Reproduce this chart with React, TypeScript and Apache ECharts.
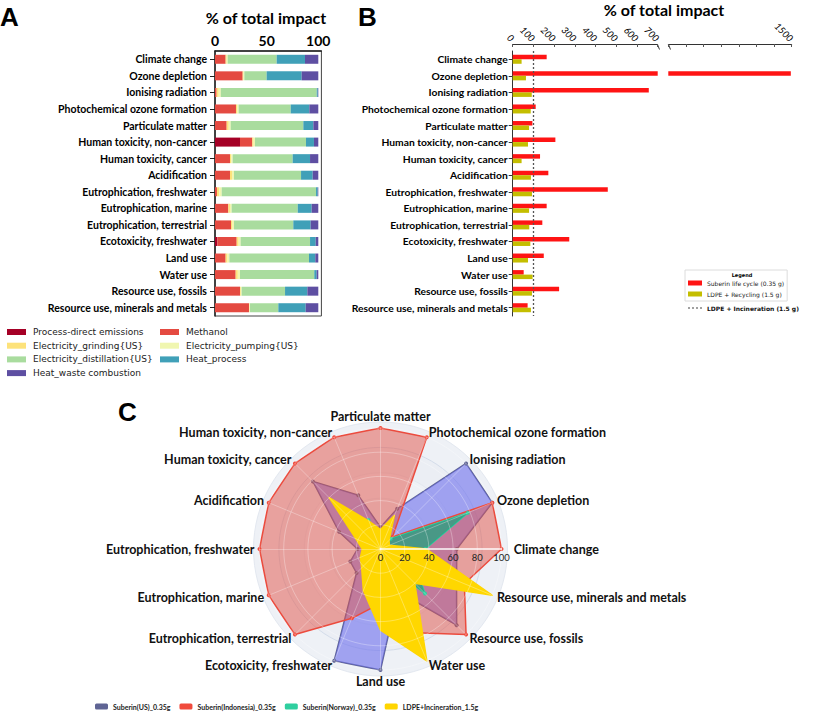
import React, { useEffect, useRef } from 'react';
import * as echarts from 'echarts';

const categories = [
  'Climate change',
  'Ozone depletion',
  'Ionising radiation',
  'Photochemical ozone formation',
  'Particulate matter',
  'Human toxicity, non-cancer',
  'Human toxicity, cancer',
  'Acidification',
  'Eutrophication, freshwater',
  'Eutrophication, marine',
  'Eutrophication, terrestrial',
  'Ecotoxicity, freshwater',
  'Land use',
  'Water use',
  'Resource use, fossils',
  'Resource use, minerals and metals',
];

// Panel A: contribution (% of total impact)
const processDirect = [0, 0, 0, 0, 0, 24.2, 0, 0, 0, 0, 0, 2.3, 0, 0, 0, 0];
const methanol = [10.3, 26.8, 1.6, 20.3, 11.3, 11.9, 14.5, 14.5, 1.9, 12.9, 15.5, 18.7, 10.3, 20, 24.2, 32.9];
const elecGrinding = [1, 0.8, 2, 1.3, 2, 1.3, 1.3, 2, 2.3, 1.6, 1.5, 1.9, 1.8, 2.1, 0.8, 0.5];
const elecPumping = [1, 0.8, 2, 1.3, 1.9, 1.3, 1.3, 1.9, 2.3, 1.6, 1.4, 1.9, 1.8, 2.1, 0.8, 0.5];
const elecDistillation = [47.4, 21.6, 92.9, 50.4, 70.3, 49.4, 58.1, 64.9, 91.3, 64, 57.4, 67.2, 77.1, 71.9, 42, 27.4];
const heatProcess = [27.4, 33.9, 1, 18, 9.7, 7.7, 16.8, 11.3, 1.6, 13.5, 16.8, 5.5, 6.1, 2.3, 21.6, 26.5];
const heatWaste = [12.9, 16.1, 0.5, 8.7, 4.8, 4.2, 8, 5.4, 0.6, 6.4, 7.4, 2.5, 2.9, 1.6, 10.6, 12.2];

// Panel B: % of total impact relative to LDPE + incineration
const suberinLifeCycle = [164, 1495, 657, 111, 95, 206, 132, 172, 459, 164, 143, 273, 150, 53, 224, 72];
const ldpeRecycling = [43, 64, 92, 87, 79, 74, 43, 88, 93, 79, 80, 85, 74, 96, 93, 88];
const ldpeIncinerationRef = 100;
const bTicksFirst = { min: 0, max: 700, interval: 100 };
const bTicksSecond = { min: 800, max: 1500, interval: 100 };

// Panel C: radar (normalised, 0-100)
const suberinUS = [63, 100, 100, 36, 18, 48, 79, 37, 19, 27, 28, 100, 100, 38, 89, 68];
const suberinIndonesia = [100, 100, 14, 100, 100, 100, 100, 100, 100, 100, 100, 62, 45, 75, 100, 75];
const suberinNorway = [37, 78, 12, 10, 8, 26, 10, 10, 5, 8, 8, 10, 10, 15, 52, 30];
const ldpeIncineration = [38, 8, 10, 30, 16, 25, 60, 22, 15, 18, 22, 37, 67, 100, 40, 100];

const aSeriesDefs = [
  { name: 'Process-direct emissions', data: processDirect, color: '#a50026' },
  { name: 'Methanol', data: methanol, color: '#e44a41' },
  { name: 'Electricity_grinding{US}', data: elecGrinding, color: '#fde27a' },
  { name: 'Electricity_pumping{US}', data: elecPumping, color: '#f0f6b0' },
  { name: 'Electricity_distillation{US}', data: elecDistillation, color: '#a9dc9e' },
  { name: 'Heat_process', data: heatProcess, color: '#40a0b8' },
  { name: 'Heat_waste combustion', data: heatWaste, color: '#5e4fa2' },
];

const FONT = 'Lato';

export default function App() {
  const ref = useRef<HTMLDivElement>(null);
  useEffect(() => {
    if (!ref.current) return;
    const chart = echarts.init(ref.current, undefined, { renderer: 'svg' });

    const aSeries = aSeriesDefs.map((d) => ({
      name: d.name,
      type: 'bar',
      stack: 'a',
      xAxisIndex: 0,
      yAxisIndex: 0,
      barWidth: 9,
      data: d.data,
      itemStyle: { color: d.color },
    }));

    const bBar = (axis: number) => [
      {
        name: 'Suberin life cycle (0.35 g)',
        type: 'bar',
        xAxisIndex: axis,
        yAxisIndex: axis,
        barWidth: 4.5,
        barGap: '0%',
        clip: true,
        data: suberinLifeCycle,
        itemStyle: { color: '#ff1414' },
      },
      {
        name: 'LDPE + Recycling (1.5 g)',
        type: 'bar',
        xAxisIndex: axis,
        yAxisIndex: axis,
        barWidth: 4.5,
        barGap: '0%',
        clip: true,
        data: ldpeRecycling,
        itemStyle: { color: '#c4be00' },
      },
    ];

    const radarStyle = (name: string, data: number[], line: string, fill: string, sym: boolean, z: number) => ({
      name,
      type: 'radar',
      radarIndex: 1,
      z,
      symbol: sym ? 'circle' : 'none',
      symbolSize: 4,
      lineStyle: { color: line, width: 1.5 },
      itemStyle: { color: line },
      areaStyle: { color: fill, opacity: 1 },
      data: [{ value: data, name }],
    });

    const catLabel = (margin: number, size: number) => ({
      fontSize: size,
      fontWeight: 'bold',
      fontFamily: FONT,
      color: '#000',
      margin,
    });

    const option: any = {
      animation: false,
      textStyle: { fontFamily: FONT },
      title: [
        { text: 'A', left: 0, top: 4, padding: 0, textStyle: { fontSize: 26, fontWeight: 'bold', fontFamily: 'Liberation Sans', color: '#000' } },
        { text: 'B', left: 358, top: 4, padding: 0, textStyle: { fontSize: 26, fontWeight: 'bold', fontFamily: 'Liberation Sans', color: '#000' } },
        { text: 'C', left: 118, top: 399, padding: 0, textStyle: { fontSize: 26, fontWeight: 'bold', fontFamily: 'Liberation Sans', color: '#000' } },
        { text: '% of total impact', left: 266, top: 9, padding: 0, textAlign: 'center', textStyle: { fontSize: 16, fontWeight: 'bold', color: '#000' } },
        { text: '% of total impact', left: 664, top: 1, padding: 0, textAlign: 'center', textStyle: { fontSize: 16, fontWeight: 'bold', color: '#000' } },
        { text: 'Legend', left: 742, top: 272, padding: 0, textAlign: 'center', textStyle: { fontSize: 5, fontWeight: 'bold', fontFamily: 'DejaVu Sans', color: '#000' } },
      ],
      graphic: [
        { type: 'line', shape: { x1: 657.5, y1: 44.5, x2: 659.5, y2: 49.5 }, style: { stroke: '#333', lineWidth: 1 } },
        { type: 'line', shape: { x1: 668.5, y1: 44.5, x2: 670.5, y2: 49.5 }, style: { stroke: '#333', lineWidth: 1 } },
      ],
      legend: [
        {
          left: 7, top: 326, orient: 'vertical', padding: 0, itemWidth: 19, itemHeight: 6, itemGap: 1.7, icon: 'rect',
          textStyle: { fontSize: 9, fontFamily: 'DejaVu Sans', color: '#222', lineHeight: 12, padding: [0, 0, 0, 2] },
          data: ['Process-direct emissions', 'Electricity_grinding{US}', 'Electricity_distillation{US}', 'Heat_waste combustion'],
        },
        {
          left: 160, top: 326, orient: 'vertical', padding: 0, itemWidth: 19, itemHeight: 6, itemGap: 1.7, icon: 'rect',
          textStyle: { fontSize: 9, fontFamily: 'DejaVu Sans', color: '#222', lineHeight: 12, padding: [0, 0, 0, 2] },
          data: ['Methanol', 'Electricity_pumping{US}', 'Heat_process'],
        },
        {
          left: 685, top: 270, orient: 'vertical', padding: [9, 3, 3, 3], borderColor: '#dcdcdc', borderWidth: 1,
          itemWidth: 14, itemHeight: 5, itemGap: 3, icon: 'rect',
          textStyle: { fontSize: 6, fontFamily: 'DejaVu Sans', color: '#222', lineHeight: 8 },
          data: ['Suberin life cycle (0.35 g)', 'LDPE + Recycling (1.5 g)'],
        },
        {
          left: 688, top: 304, orient: 'vertical', padding: 0, itemWidth: 14, itemHeight: 1.2,
          icon: 'path://M0,0h2v1h-2z M4,0h2v1h-2z M8,0h2v1h-2z M12,0h2v1h-2z',
          textStyle: { fontSize: 6, fontWeight: 'bold', fontFamily: 'DejaVu Sans', color: '#111', lineHeight: 8 },
          data: ['LDPE + Incineration (1.5 g)'],
        },
        {
          left: 95, top: 703, orient: 'horizontal', padding: 0, itemWidth: 13, itemHeight: 6, itemGap: 9,
          textStyle: { fontSize: 7, fontWeight: 'bold', fontFamily: FONT, color: '#222' },
          data: ['Suberin(US)_0.35g', 'Suberin(Indonesia)_0.35g', 'Suberin(Norway)_0.35g', 'LDPE+Incineration_1.5g'],
        },
      ],
      grid: [
        { left: 215, top: 51, width: 106.4, height: 265, show: true, borderColor: '#444', borderWidth: 1 },
        { left: 512.7, top: 51, width: 145, height: 265 },
        { left: 668.3, top: 51, width: 123.4, height: 265 },
      ],
      xAxis: [
        {
          gridIndex: 0, type: 'value', position: 'top', min: 0, max: 103, interval: 50,
          axisLine: { show: true, lineStyle: { color: '#222', width: 1.5 } },
          axisTick: { show: false }, splitLine: { show: false },
          axisLabel: { fontSize: 14, fontWeight: 'bold', color: '#000', margin: 4, formatter: (v: number) => (v % 50 === 0 ? String(v) : '') },
        },
        {
          gridIndex: 1, type: 'value', position: 'top', offset: 7, ...bTicksFirst,
          axisLine: { show: true, lineStyle: { color: '#333', width: 1 } },
          axisTick: { show: true, inside: true, length: 3, lineStyle: { color: '#555' } }, splitLine: { show: false },
          axisLabel: { fontSize: 9.5, rotate: 45, color: '#000', margin: 4, fontStyle: 'italic' },
        },
        {
          gridIndex: 2, type: 'value', position: 'top', offset: 7, ...bTicksSecond,
          axisLine: { show: true, lineStyle: { color: '#333', width: 1 } },
          axisTick: { show: true, inside: true, length: 3, lineStyle: { color: '#555' } }, splitLine: { show: false },
          axisLabel: { fontSize: 9.5, rotate: 45, color: '#000', margin: 4, fontStyle: 'italic', formatter: (v: number) => (v === bTicksSecond.max ? String(v) : '') },
        },
      ],
      yAxis: [
        {
          gridIndex: 0, type: 'category', data: categories, inverse: true,
          axisLine: { lineStyle: { color: '#222', width: 1.5 } },
          axisTick: { show: true, length: 5, alignWithLabel: true, lineStyle: { color: '#222' } },
          axisLabel: catLabel(8, 10.5),
        },
        {
          gridIndex: 1, type: 'category', data: categories, inverse: true,
          axisLine: { lineStyle: { color: '#333', width: 1 } },
          axisTick: { show: true, length: 4, alignWithLabel: true, lineStyle: { color: '#333' } },
          axisLabel: catLabel(5, 10.3),
        },
        { gridIndex: 2, type: 'category', data: categories, inverse: true, show: false },
      ],
      radar: [
        {
          center: [380.5, 549], radius: 127, startAngle: 0, shape: 'circle', silent: true, z: 0,
          indicator: categories.map(() => ({ name: '', max: 100, min: 0 })),
          axisName: { show: false }, splitNumber: 5,
          axisLine: { show: false },
          splitLine: { lineStyle: { color: ['#e3e8f0', '#e3e8f0', '#e3e8f0', '#e3e8f0', '#d3dcea'], width: 1 } },
          splitArea: { show: true, areaStyle: { color: ['#eef1f6', '#ebeef4'] } },
        },
        {
          center: [380.5, 549], radius: 121, startAngle: 0, shape: 'circle', z: 10,
          indicator: categories.map((name, i) =>
            i === 0
              ? { name, max: 100, min: 0, axisLabel: { show: true }, axisLine: { lineStyle: { color: 'rgba(255,255,255,0.95)', width: 1.5 } } }
              : { name, max: 100, min: 0 }
          ),
          splitNumber: 5,
          axisNameGap: 5,
          axisName: { color: '#111', fontSize: 12.5, fontWeight: 'bold', fontFamily: FONT },
          axisLine: { lineStyle: { color: 'rgba(255,255,255,0.3)', width: 1 } },
          splitLine: { lineStyle: { color: 'rgba(255,255,255,0.3)', width: 1 } },
          splitArea: { show: false },
          axisLabel: { show: false, fontSize: 9.5, color: '#222', fontFamily: FONT, margin: -13 },
        },
      ],
      series: [
        ...aSeries,
        ...bBar(1),
        ...bBar(2),
        {
          name: 'LDPE + Incineration (1.5 g)',
          type: 'line',
          xAxisIndex: 1,
          yAxisIndex: 1,
          data: [],
          symbol: 'none',
          lineStyle: { color: '#444', type: [2, 2], width: 1.2 },
          itemStyle: { color: '#444' },
          markLine: {
            silent: true,
            symbol: 'none',
            label: { show: false },
            lineStyle: { color: '#555', type: [2, 2], width: 1.3 },
            data: [{ xAxis: ldpeIncinerationRef }],
          },
        },
        radarStyle('Suberin(US)_0.35g', suberinUS, '#5f6494', 'rgba(108,110,236,0.6)', true, 2),
        radarStyle('Suberin(Indonesia)_0.35g', suberinIndonesia, '#f04a3c', 'rgba(226,82,70,0.5)', true, 3),
        radarStyle('Suberin(Norway)_0.35g', suberinNorway, '#2fcf9f', 'rgba(40,160,128,0.78)', true, 4),
        radarStyle('LDPE+Incineration_1.5g', ldpeIncineration, '#ffd500', '#ffd700', false, 5),
      ],
    };
    chart.setOption(option);
    return () => chart.dispose();
  }, []);

  return (
    <div
      ref={ref}
      style={{ position: 'fixed', left: 0, top: 0, width: 817, height: 728, background: '#fff' }}
    />
  );
}
